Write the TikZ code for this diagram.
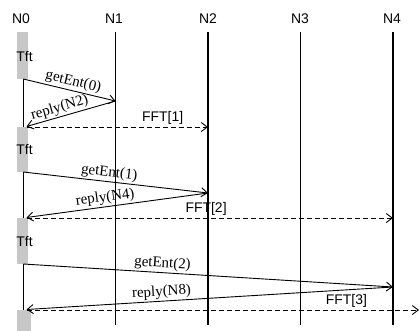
\documentclass[tikz,border=0pt]{standalone}
\usepackage{fontspec}
\setmainfont{Liberation Serif}
\setsansfont{Liberation Sans}
\usetikzlibrary{arrows.meta}
\begin{document}
\begin{tikzpicture}[x=1bp,y=-1bp,
  lifeline/.style={line width=1.3bp},
  msg/.style={line width=0.9bp,-{Straight Barb[length=6bp,width=9bp]}},
  fftmsg/.style={msg,dash pattern=on 5bp off 3bp},
  actbar/.style={fill=black!22,draw=none},
  head/.style={font=\sffamily\fontsize{14}{14}\selectfont,inner sep=0pt},
  msglbl/.style={font=\fontsize{15}{15}\selectfont,inner sep=1.5bp,sloped,above},
  fftlbl/.style={font=\sffamily\fontsize{14}{14}\selectfont,inner sep=2.5bp,above}]
\useasboundingbox (0,0) rectangle (420,331);
% lifelines
\foreach \n/\x/\lx in {0/23.3/21,1/115.5/114,2/208/208,3/300.5/300,4/393/392}{
  \node[head] (N\n) at (\lx,18.5) {N\n};
  \coordinate (t\n) at (\x,32);
  \coordinate (b\n) at (\x,325);
  \draw[lifeline] (t\n) -- (b\n);
}
% activation bars on N0
\fill[actbar] (17,32) rectangle (28,79);
\fill[actbar] (17,127) rectangle (28,172);
\fill[actbar] (17,218) rectangle (28,264);
\fill[actbar] (17,310) rectangle (30.5,331);
\node[head] (tft0) at (24.5,57) {Tft};
\node[head] (tft1) at (24.5,150) {Tft};
\node[head] (tft2) at (24.5,242) {Tft};
% message end points
\coordinate (g0s) at (23.3,79);
\coordinate (g0e) at (115.5,101);
\coordinate (r0e) at (26.5,126.5);
\coordinate (f0s) at (26.5,127);
\coordinate (f0e) at (208,127);
\coordinate (g1s) at (23.3,172);
\coordinate (g1e) at (208,193);
\coordinate (r1e) at (26.5,217.5);
\coordinate (f1s) at (26.5,218);
\coordinate (f1e) at (393,218);
\coordinate (g2s) at (23.3,264);
\coordinate (g2e) at (393,287);
\coordinate (r2e) at (26.5,309.5);
\coordinate (f2s) at (26.5,310);
\coordinate (f2e) at (419,310);
% round 1
\draw[msg] (g0s) -- node[msglbl,pos=0.52] {getEnt(0)} (g0e);
\draw[msg] (g0e) -- node[msglbl,pos=0.6] {reply(N2)} (r0e);
\draw[fftmsg] (f0s) -- node[fftlbl,pos=0.75] {FFT[1]} (f0e);
% round 2
\draw[msg] (g1s) -- node[msglbl,pos=0.46] {getEnt(1)} (g1e);
\draw[msg] (g1e) -- node[msglbl,pos=0.56] {reply(N4)} (r1e);
\draw[fftmsg] (f1s) -- node[fftlbl,pos=0.49] {FFT[2]} (f1e);
% round 3
\draw[msg] (g2s) -- node[msglbl,pos=0.375] {getEnt(2)} (g2e);
\draw[msg] (g2e) -- node[msglbl,pos=0.63] {reply(N8)} (r2e);
\draw[fftmsg] (f2s) -- node[fftlbl,pos=0.815] {FFT[3]} (f2e);
\end{tikzpicture}
\end{document}
